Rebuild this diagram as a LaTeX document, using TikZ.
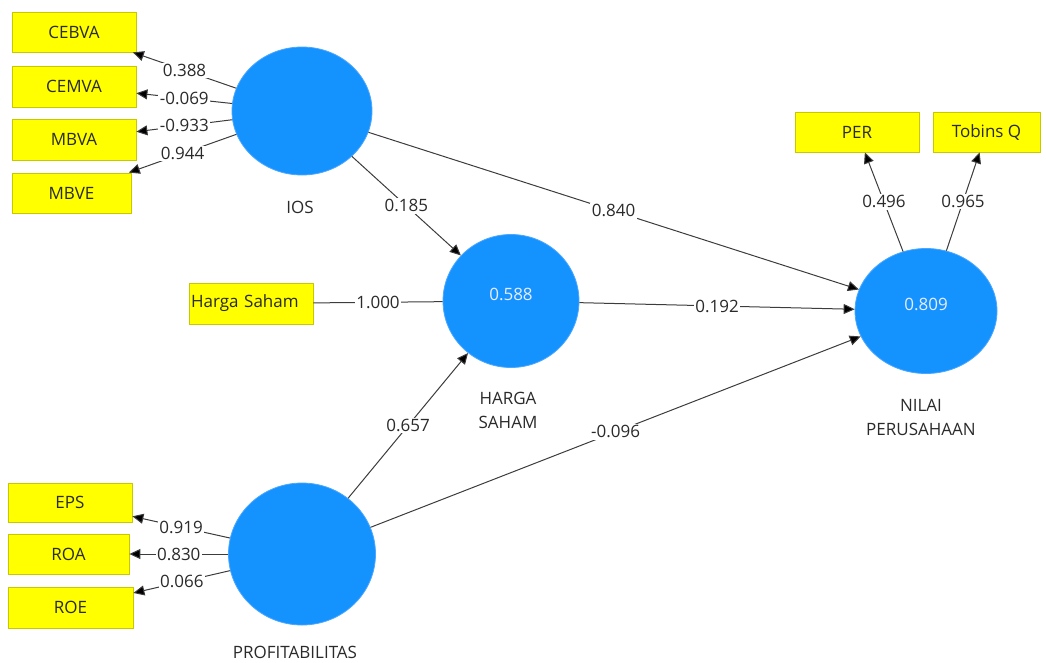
\documentclass[tikz,border=0pt]{standalone}
\usepackage{fontspec}
\setmainfont{Open Sans}
\usetikzlibrary{shapes.geometric,arrows.meta}
\definecolor{boxfill}{HTML}{FFFF00}
\definecolor{boxline}{HTML}{C8C800}
\definecolor{lvfill}{HTML}{1493FF}
\definecolor{lvline}{HTML}{4AA6FF}
\definecolor{txt}{HTML}{2A2A2A}
\definecolor{edge}{HTML}{3C3C3C}
\tikzset{
  ind/.style={draw=boxline, fill=boxfill, line width=0.8pt, inner sep=0pt, text=txt, font=\fontsize{17}{20}\selectfont},
  lv/.style={ellipse, draw=lvline, fill=lvfill, line width=0.8pt, inner sep=0pt, text=white!92!blue, font=\fontsize{17}{20}\selectfont},
  lvcaption/.style={text=txt, font=\fontsize{17}{24}\selectfont, align=center},
  lbl/.style={midway, fill=white, inner sep=1.5pt, text=txt, font=\fontsize{17}{20}\selectfont},
  edg/.style={draw=edge, line width=1pt},
  arr/.style={edg, -{Triangle[length=11pt,width=10pt,fill=black]}}
}
\begin{document}
\begin{tikzpicture}[x=1pt,y=-1pt]
\useasboundingbox (0,0) rectangle (1046,662);
% latent variables
\node[lv, minimum width=140pt, minimum height=128pt] (ios) at (302,111) {};
\node[lv, minimum width=136pt, minimum height=133pt] (harga) at (511,301) {};
\node[text=white!92!blue, font=\fontsize{17}{20}\selectfont] (hargav) at (511,294) {0.588};
\node[lv, minimum width=142pt, minimum height=125pt] (nilai) at (926,311) {};
\node[text=white!92!blue, font=\fontsize{17}{20}\selectfont] (nilaiv) at (926,304) {0.809};
\node[lv, minimum width=147pt, minimum height=142pt] (prof) at (302,554) {};
% captions
\node[lvcaption] (iosc) at (300,207) {IOS};
\node[lvcaption] (hargac) at (508,410) {HARGA\\SAHAM};
\node[lvcaption] (nilaic) at (921,417) {NILAI\\PERUSAHAAN};
\node[lvcaption] (profc) at (295,652) {PROFITABILITAS};
% indicators
\node[ind, minimum width=124pt, minimum height=40pt] (cebva) at (74,32) {CEBVA};
\node[ind, minimum width=124pt, minimum height=41pt] (cemva) at (74,86.5) {CEMVA};
\node[ind, minimum width=124pt, minimum height=41pt] (mbva) at (74,139.5) {MBVA};
\node[ind, minimum width=119pt, minimum height=40pt] (mbve) at (71.5,193) {MBVE};
\node[ind, minimum width=124pt, minimum height=39pt] (eps) at (70,502.5) {EPS};
\node[ind, minimum width=121pt, minimum height=40pt] (roa) at (68.5,554) {ROA};
\node[ind, minimum width=125pt, minimum height=41pt] (roe) at (70.5,607.5) {ROE};
\node[ind, minimum width=124pt, minimum height=41pt, text width=120pt, align=left] (hs) at (251,303.5) {Harga Saham};
\node[ind, minimum width=124pt, minimum height=40pt] (per) at (857,132) {PER};
\node[ind, minimum width=107pt, minimum height=40pt] (tq) at (986.5,132) {Tobins Q};
% outer loadings
\draw[arr] (ios) -- node[lbl]{0.388} (cebva);
\draw[arr] (ios) -- node[lbl]{-0.069} (cemva);
\draw[arr] (ios) -- node[lbl]{-0.933} (mbva);
\draw[arr] (ios) -- node[lbl]{0.944} (mbve);
\draw[arr] (prof) -- node[lbl]{0.919} (eps);
\draw[arr] (prof) -- node[lbl]{0.830} (roa);
\draw[arr] (prof) -- node[lbl]{0.066} (roe);
\draw[arr] (nilai) -- node[lbl]{0.496} (per);
\draw[arr] (nilai) -- node[lbl]{0.965} (tq);
\draw[edg] (harga) -- node[lbl]{1.000} (hs);
% paths
\draw[arr] (ios) -- node[lbl]{0.185} (harga);
\draw[arr] (ios) -- node[lbl]{0.840} (nilai);
\draw[arr] (harga) -- node[lbl]{0.192} (nilai);
\draw[arr] (prof) -- node[lbl]{0.657} (harga);
\draw[arr] (prof) -- node[lbl]{-0.096} (nilai);
\end{tikzpicture}
\end{document}
